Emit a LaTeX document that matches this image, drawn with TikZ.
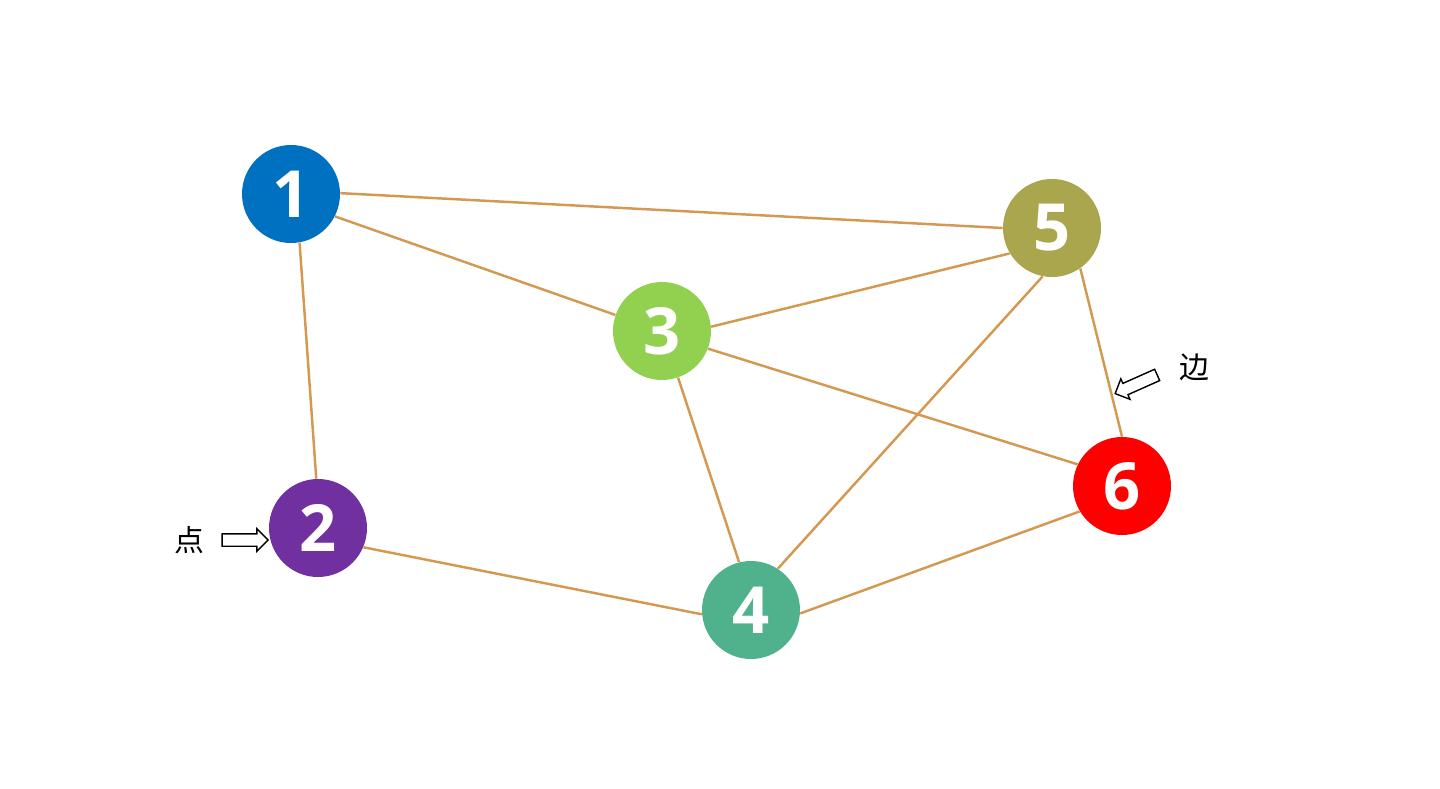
\documentclass[tikz,border=0pt]{standalone}
\usepackage{fontspec}
\setmainfont{Open Sans}
\newfontfamily\cjk{Noto Sans CJK SC}
\usetikzlibrary{shapes.arrows}
\definecolor{edgecol}{RGB}{212,152,80}
\definecolor{cOne}{RGB}{0,112,192}
\definecolor{cTwo}{RGB}{112,48,160}
\definecolor{cThree}{RGB}{146,208,80}
\definecolor{cFour}{RGB}{80,178,141}
\definecolor{cFive}{RGB}{169,166,78}
\definecolor{cSix}{RGB}{255,0,0}
\tikzset{
  vertex/.style={circle, minimum size=1.96cm, inner sep=0pt, text=white,
    font=\fontsize{37}{37}\selectfont\bfseries},
  link/.style={edgecol, line width=1.4pt},
  blockarrow/.style={single arrow, draw=black, fill=white, line width=0.8pt,
    inner xsep=0pt, inner ysep=0.11cm, single arrow head extend=0.1cm,
    minimum height=0.92cm},
  tag/.style={font=\cjk\fontsize{17}{17}\selectfont}
}
\begin{document}
\begin{tikzpicture}[x=0.02cm,y=-0.02cm]
\useasboundingbox (0,0) rectangle (1440,788);
% vertices
\node[vertex, fill=cOne]   (v1) at (291,194) {1};
\node[vertex, fill=cTwo]   (v2) at (318,528) {2};
\node[vertex, fill=cThree] (v3) at (662,331) {3};
\node[vertex, fill=cFour]  (v4) at (751,610) {4};
\node[vertex, fill=cFive]  (v5) at (1052,228) {5};
\node[vertex, fill=cSix]   (v6) at (1122,486) {6};
% edges
\foreach \a/\b in {v1.1/v5.180,v1.333/v3.161,v1.280/v2.92,v3.5/v5.211,
                   v3.339/v6.154,v3.289/v4.104,v5.259/v4.57,v5.305/v6.90,
                   v2.337/v4.185,v6.211/v4.356}
  \draw[link] (\a) -- (\b);
% labels
\node[tag] (dian) at (189,540) {点};
\node[blockarrow] (pa) at (242,540) {};
\node[tag] (bian) at (1194,367) {边};
\node[blockarrow, rotate=204] (pb) at (1139,383) {};
\end{tikzpicture}
\end{document}
